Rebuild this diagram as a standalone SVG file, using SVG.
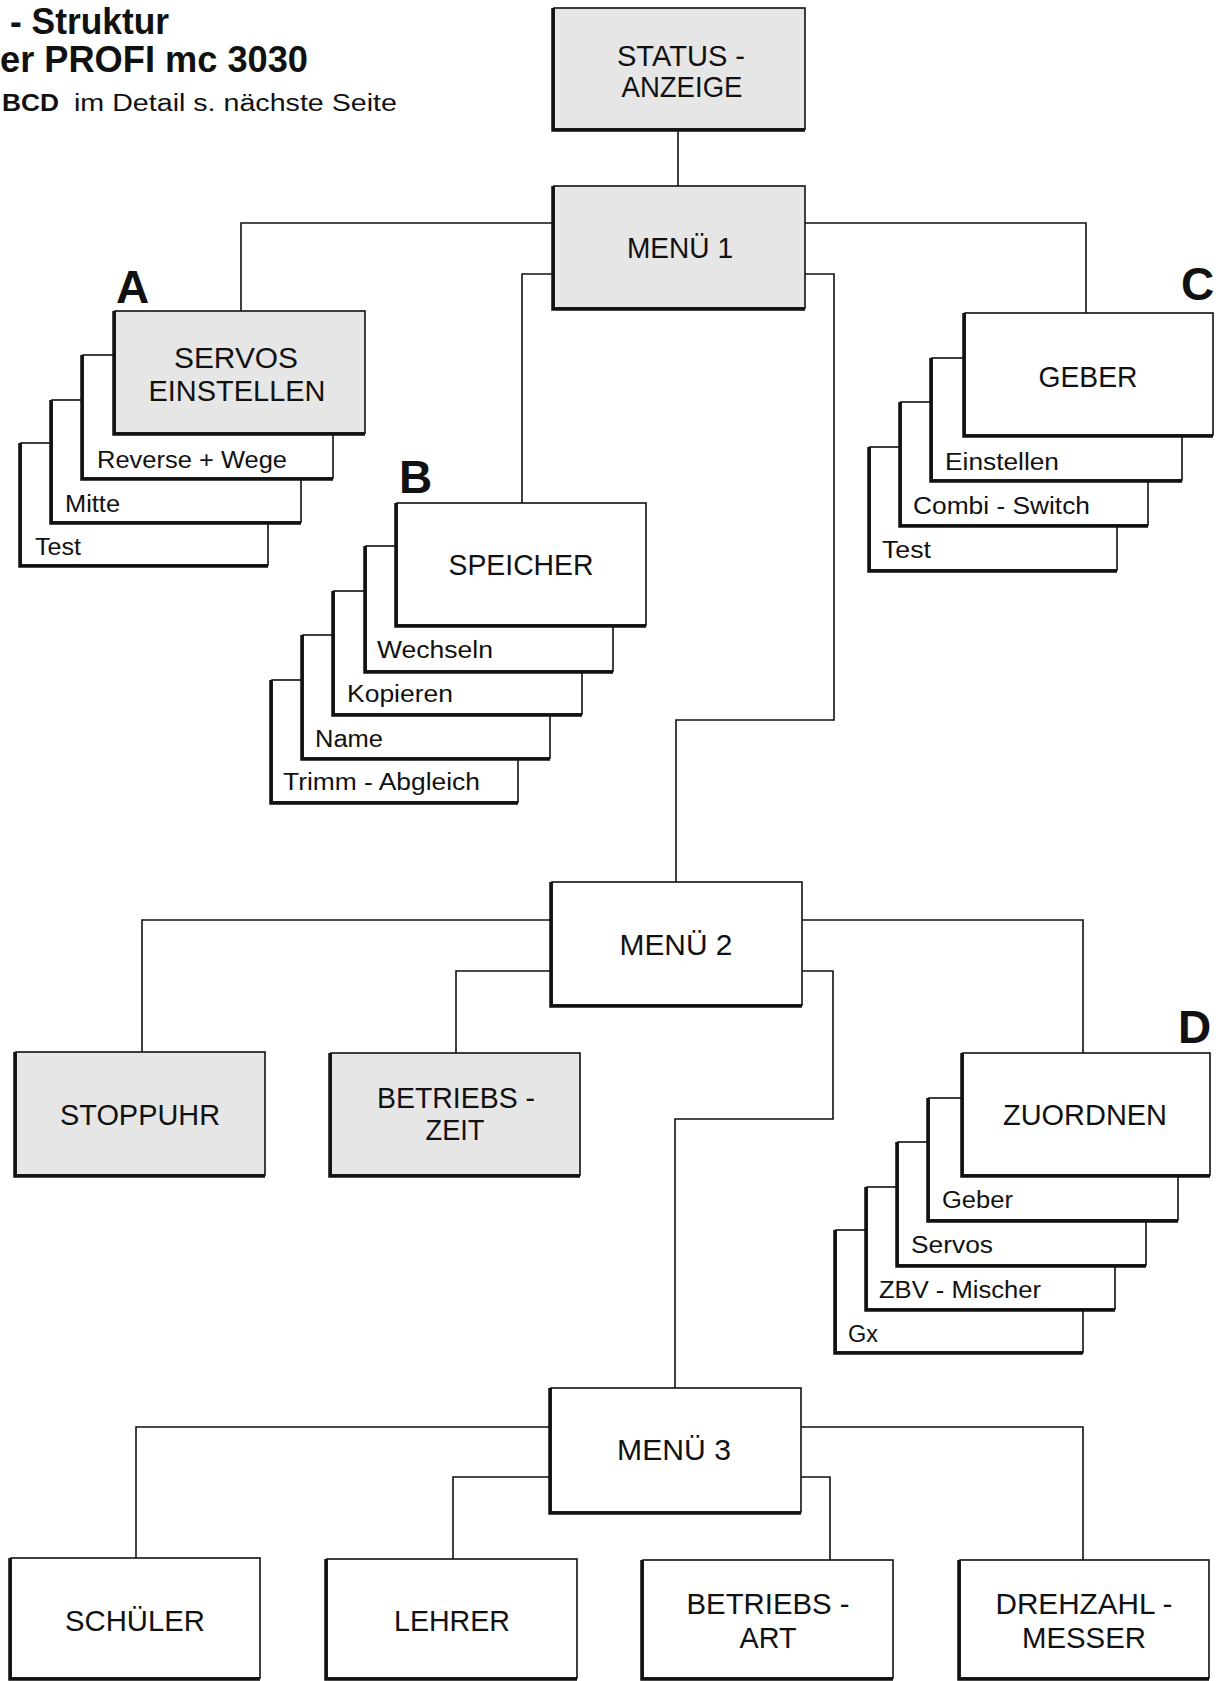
<svg xmlns="http://www.w3.org/2000/svg" width="1221" height="1681" viewBox="0 0 1221 1681">
<style>
.bg{fill:#fff}
.w{fill:#fff;stroke:#111;stroke-width:1.6}
.g{fill:#e6e6e6;stroke:#111;stroke-width:1.6}
.sh{fill:none;stroke:#111;stroke-width:3.5}
.c{fill:none;stroke:#111;stroke-width:1.6}
.t{font-family:"Liberation Sans",Arial,sans-serif;font-size:29px;fill:#111;text-anchor:middle}
.s{font-family:"Liberation Sans",Arial,sans-serif;font-size:23px;fill:#111}
.L{font-family:"Liberation Sans",Arial,sans-serif;font-size:46px;font-weight:bold;fill:#111}
.h{font-family:"Liberation Sans",Arial,sans-serif;font-size:36px;font-weight:bold;fill:#111}
.n{font-family:"Liberation Sans",Arial,sans-serif;font-size:23px;fill:#111}
</style>
<rect class="bg" x="0" y="0" width="1221" height="1681"/>

<g id="title">
<text class="h" x="10" y="34" textLength="159" lengthAdjust="spacingAndGlyphs">- Struktur</text>
<text class="h" x="0" y="72" textLength="308" lengthAdjust="spacingAndGlyphs">er PROFI mc 3030</text>
<text class="n" x="2" y="111" font-weight="bold" textLength="57" lengthAdjust="spacingAndGlyphs">BCD</text>
<text class="n" x="74" y="111" textLength="323" lengthAdjust="spacingAndGlyphs">im Detail s. nächste Seite</text>
</g>

<g id="connectors">
<path class="c" d="M678,129 V186"/>
<path class="c" d="M554,223 H241 V311"/>
<path class="c" d="M554,274 H522 V503"/>
<path class="c" d="M805,223 H1086 V313"/>
<path class="c" d="M805,274 H834 V720 H676 V882"/>
<path class="c" d="M552,920 H142 V1052"/>
<path class="c" d="M552,971 H456 V1053"/>
<path class="c" d="M802,920 H1083 V1053"/>
<path class="c" d="M802,971 H833 V1119 H675 V1388"/>
<path class="c" d="M551,1427 H136 V1558"/>
<path class="c" d="M551,1477 H453 V1559"/>
<path class="c" d="M801,1477 H830 V1560"/>
<path class="c" d="M801,1427 H1083 V1560"/>
</g>

<g id="status">
<rect class="g" x="554" y="8" width="251" height="121"/>
<path class="sh" d="M553,8 V130 H805"/>
<text class="t" x="681" y="66" textLength="128" lengthAdjust="spacingAndGlyphs">STATUS -</text>
<text class="t" x="682" y="97" textLength="121" lengthAdjust="spacingAndGlyphs">ANZEIGE</text>
</g>

<g id="menu1">
<rect class="g" x="554" y="186" width="251" height="122"/>
<path class="sh" d="M553,186 V309 H805"/>
<text class="t" x="680" y="258" textLength="106" lengthAdjust="spacingAndGlyphs">MENÜ 1</text>
</g>

<g id="labelA"><text class="L" x="116" y="303">A</text></g>
<g id="servos-test">
<rect class="w" x="21" y="443" width="247" height="122"/>
<path class="sh" d="M20,443 V566 H268"/>
<text class="s" x="35" y="555" textLength="46" lengthAdjust="spacingAndGlyphs">Test</text>
</g>
<g id="servos-mitte">
<rect class="w" x="52" y="400" width="249" height="122"/>
<path class="sh" d="M51,400 V523 H301"/>
<text class="s" x="65" y="512" textLength="55" lengthAdjust="spacingAndGlyphs">Mitte</text>
</g>
<g id="servos-reverse">
<rect class="w" x="83" y="355" width="250" height="123"/>
<path class="sh" d="M82,355 V479 H333"/>
<text class="s" x="97" y="468" textLength="190" lengthAdjust="spacingAndGlyphs">Reverse + Wege</text>
</g>
<g id="servos">
<rect class="g" x="115" y="311" width="250" height="122"/>
<path class="sh" d="M114,311 V434 H365"/>
<text class="t" x="236" y="368" textLength="124" lengthAdjust="spacingAndGlyphs">SERVOS</text>
<text class="t" x="237" y="401" textLength="177" lengthAdjust="spacingAndGlyphs">EINSTELLEN</text>
</g>

<g id="labelB"><text class="L" x="399" y="493">B</text></g>
<g id="speicher-trimm">
<rect class="w" x="272" y="680" width="246" height="122"/>
<path class="sh" d="M271,680 V803 H518"/>
<text class="s" x="283" y="790" textLength="197" lengthAdjust="spacingAndGlyphs">Trimm - Abgleich</text>
</g>
<g id="speicher-name">
<rect class="w" x="303" y="635" width="247" height="123"/>
<path class="sh" d="M302,635 V759 H550"/>
<text class="s" x="315" y="747" textLength="68" lengthAdjust="spacingAndGlyphs">Name</text>
</g>
<g id="speicher-kopieren">
<rect class="w" x="334" y="591" width="248" height="123"/>
<path class="sh" d="M333,591 V715 H582"/>
<text class="s" x="347" y="702" textLength="106" lengthAdjust="spacingAndGlyphs">Kopieren</text>
</g>
<g id="speicher-wechseln">
<rect class="w" x="366" y="546" width="247" height="125"/>
<path class="sh" d="M365,546 V672 H613"/>
<text class="s" x="377" y="658" textLength="116" lengthAdjust="spacingAndGlyphs">Wechseln</text>
</g>
<g id="speicher">
<rect class="w" x="397" y="503" width="249" height="122"/>
<path class="sh" d="M396,503 V626 H646"/>
<text class="t" x="521" y="575" textLength="145" lengthAdjust="spacingAndGlyphs">SPEICHER</text>
</g>

<g id="labelC"><text class="L" x="1181" y="300">C</text></g>
<g id="geber-test">
<rect class="w" x="870" y="447" width="247" height="123"/>
<path class="sh" d="M869,447 V571 H1117"/>
<text class="s" x="882" y="558" textLength="49" lengthAdjust="spacingAndGlyphs">Test</text>
</g>
<g id="geber-combi">
<rect class="w" x="901" y="402" width="247" height="123"/>
<path class="sh" d="M900,402 V526 H1148"/>
<text class="s" x="913" y="514" textLength="177" lengthAdjust="spacingAndGlyphs">Combi - Switch</text>
</g>
<g id="geber-einstellen">
<rect class="w" x="932" y="358" width="250" height="122"/>
<path class="sh" d="M931,358 V481 H1182"/>
<text class="s" x="945" y="470" textLength="114" lengthAdjust="spacingAndGlyphs">Einstellen</text>
</g>
<g id="geber">
<rect class="w" x="965" y="313" width="248" height="122"/>
<path class="sh" d="M964,313 V436 H1213"/>
<text class="t" x="1088" y="387" textLength="99" lengthAdjust="spacingAndGlyphs">GEBER</text>
</g>

<g id="menu2">
<rect class="w" x="552" y="882" width="250" height="123"/>
<path class="sh" d="M551,882 V1006 H802"/>
<text class="t" x="676" y="955" textLength="113" lengthAdjust="spacingAndGlyphs">MENÜ 2</text>
</g>

<g id="stoppuhr">
<rect class="g" x="16" y="1052" width="249" height="123"/>
<path class="sh" d="M15,1052 V1176 H265"/>
<text class="t" x="140" y="1125" textLength="160" lengthAdjust="spacingAndGlyphs">STOPPUHR</text>
</g>
<g id="betriebszeit">
<rect class="g" x="331" y="1053" width="249" height="122"/>
<path class="sh" d="M330,1053 V1176 H580"/>
<text class="t" x="456" y="1108" textLength="158" lengthAdjust="spacingAndGlyphs">BETRIEBS -</text>
<text class="t" x="455" y="1140" textLength="59" lengthAdjust="spacingAndGlyphs">ZEIT</text>
</g>

<g id="labelD"><text class="L" x="1178" y="1043">D</text></g>
<g id="zuordnen-gx">
<rect class="w" x="836" y="1230" width="247" height="122"/>
<path class="sh" d="M835,1230 V1353 H1083"/>
<text class="s" x="848" y="1342" textLength="30" lengthAdjust="spacingAndGlyphs">Gx</text>
</g>
<g id="zuordnen-zbv">
<rect class="w" x="867" y="1187" width="248" height="122"/>
<path class="sh" d="M866,1187 V1310 H1115"/>
<text class="s" x="879" y="1298" textLength="162" lengthAdjust="spacingAndGlyphs">ZBV - Mischer</text>
</g>
<g id="zuordnen-servos">
<rect class="w" x="898" y="1142" width="248" height="123"/>
<path class="sh" d="M897,1142 V1266 H1146"/>
<text class="s" x="911" y="1253" textLength="82" lengthAdjust="spacingAndGlyphs">Servos</text>
</g>
<g id="zuordnen-geber">
<rect class="w" x="929" y="1098" width="249" height="122"/>
<path class="sh" d="M928,1098 V1221 H1178"/>
<text class="s" x="942" y="1208" textLength="71" lengthAdjust="spacingAndGlyphs">Geber</text>
</g>
<g id="zuordnen">
<rect class="w" x="963" y="1053" width="247" height="122"/>
<path class="sh" d="M962,1053 V1176 H1210"/>
<text class="t" x="1085" y="1125" textLength="164" lengthAdjust="spacingAndGlyphs">ZUORDNEN</text>
</g>

<g id="menu3">
<rect class="w" x="551" y="1388" width="250" height="124"/>
<path class="sh" d="M550,1388 V1513 H801"/>
<text class="t" x="674" y="1460" textLength="114" lengthAdjust="spacingAndGlyphs">MENÜ 3</text>
</g>

<g id="schueler">
<rect class="w" x="11" y="1558" width="249" height="120"/>
<path class="sh" d="M10,1558 V1679 H260"/>
<text class="t" x="135" y="1631" textLength="140" lengthAdjust="spacingAndGlyphs">SCHÜLER</text>
</g>
<g id="lehrer">
<rect class="w" x="327" y="1559" width="250" height="119"/>
<path class="sh" d="M326,1559 V1679 H577"/>
<text class="t" x="452" y="1631" textLength="116" lengthAdjust="spacingAndGlyphs">LEHRER</text>
</g>
<g id="betriebsart">
<rect class="w" x="643" y="1560" width="250" height="118"/>
<path class="sh" d="M642,1560 V1679 H893"/>
<text class="t" x="768" y="1614" textLength="163" lengthAdjust="spacingAndGlyphs">BETRIEBS -</text>
<text class="t" x="768" y="1648" textLength="57" lengthAdjust="spacingAndGlyphs">ART</text>
</g>
<g id="drehzahl">
<rect class="w" x="960" y="1560" width="249" height="118"/>
<path class="sh" d="M959,1560 V1679 H1209"/>
<text class="t" x="1084" y="1614" textLength="177" lengthAdjust="spacingAndGlyphs">DREHZAHL -</text>
<text class="t" x="1084" y="1648" textLength="124" lengthAdjust="spacingAndGlyphs">MESSER</text>
</g>
</svg>
